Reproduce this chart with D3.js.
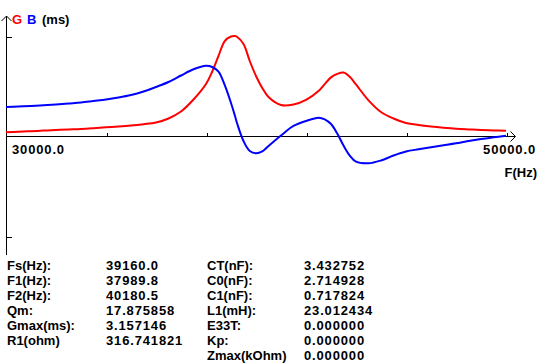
<!DOCTYPE html>
<html>
<head>
<meta charset="utf-8">
<script src="https://cdn.jsdelivr.net/npm/d3@7"></script>
<style>
html,body{margin:0;padding:0;background:#fff;}
svg{display:block;}
text{font-family:"Liberation Sans",Arial,sans-serif;font-weight:bold;font-size:13px;}
text.num{letter-spacing:0.85px;}
</style>
</head>
<body>
<svg id="chart" width="540" height="364"></svg>
<script>
// Frequencies (Hz)
const freq = [30000,30500,31000,31500,32000,32500,33000,33500,34000,34500,35000,35500,36000,36500,37000,37500,38000,38250,38500,38750,39000,39160,39250,39500,39750,40000,40250,40500,41000,41500,42000,42500,42750,43000,43250,43500,43750,44000,44500,45000,45500,46000,46500,47000,47500,48000,48500,49000,49500,50000];
// Conductance G (ms)
const gValues = [0.117,0.133,0.152,0.170,0.189,0.205,0.221,0.246,0.275,0.300,0.331,0.373,0.426,0.553,0.773,1.152,1.642,2.036,2.526,2.999,3.141,3.157,3.126,2.905,2.368,1.894,1.515,1.231,0.979,0.994,1.140,1.420,1.640,1.850,1.960,2.005,1.870,1.626,1.127,0.758,0.552,0.410,0.347,0.300,0.262,0.230,0.208,0.189,0.177,0.167];
// Susceptance B (ms)
const bValues = [0.916,0.931,0.947,0.969,0.994,1.026,1.058,1.105,1.152,1.215,1.294,1.405,1.547,1.705,1.910,2.106,2.219,2.178,2.036,1.604,1.042,0.631,0.385,-0.158,-0.474,-0.546,-0.489,-0.316,0.016,0.316,0.474,0.578,0.527,0.379,0.079,-0.300,-0.616,-0.811,-0.862,-0.773,-0.616,-0.489,-0.420,-0.357,-0.294,-0.230,-0.158,-0.095,-0.041,0.009];

const xDomain = [30000, 50000];
const xTicks = [34000, 38000, 42000, 46000, 50000];
const yMax = 3.157146;
const yTicks = [-yMax, yMax];
const xStartLabel = "30000.0";
const xEndLabel = "50000.0";
const xTitle = "F(Hz)";

const paramLabels1 = ["Fs(Hz):","F1(Hz):","F2(Hz):","Qm:","Gmax(ms):","R1(ohm)"];
const paramValues1 = ["39160.0","37989.8","40180.5","17.875858","3.157146","316.741821"];
const paramLabels2 = ["CT(nF):","C0(nF):","C1(nF):","L1(mH):","E33T:","Kp:","Zmax(kOhm)"];
const paramValues2 = ["3.432752","2.714928","0.717824","23.012434","0.000000","0.000000","0.000000"];

const svg = d3.select("#chart");
const x = d3.scaleLinear().domain(xDomain).range([6, 506]);
const y = d3.scaleLinear().domain([-yMax, yMax]).range([236, 36]);
const y0 = y(0);

// axes
const axG = svg.append("g");
axG.append("line").attr("x1",6.5).attr("x2",6.5).attr("y1",16).attr("y2",255)
  .attr("stroke","#000").attr("stroke-width",1);
axG.append("path").attr("d","M1.5,21 L6.5,16 L11.5,21").attr("fill","none").attr("stroke","#000").attr("stroke-width",1);
const yAxis = d3.axisRight(y).tickValues(yTicks).tickSize(5).tickFormat("");
const ya = svg.append("g").attr("transform","translate(6.5,0.5)").call(yAxis);
ya.select(".domain").remove();
ya.selectAll("line").attr("stroke","#000").attr("shape-rendering","crispEdges");

axG.append("line").attr("x1",6).attr("x2",515).attr("y1",y0+0.5).attr("y2",y0+0.5)
  .attr("stroke","#000").attr("stroke-width",1);
axG.append("path").attr("d",`M510.5,${y0-4.5} L515.5,${y0+0.5} L510.5,${y0+5.5}`).attr("fill","none").attr("stroke","#000").attr("stroke-width",1);
const xAxis = d3.axisTop(x).tickValues(xTicks).tickSize(4).tickFormat("");
const xa = svg.append("g").attr("transform",`translate(0.5,${y0+0.5})`).call(xAxis);
xa.select(".domain").remove();
xa.selectAll("line").attr("stroke","#000").attr("shape-rendering","crispEdges");

// curves
const lineG = d3.line().x((d,i)=>x(freq[i])).y(d=>y(d)).curve(d3.curveCatmullRom.alpha(0.5));
svg.append("path").datum(gValues).attr("d",lineG).attr("fill","none").attr("stroke","#ff0000").attr("stroke-width",2);
svg.append("path").datum(bValues).attr("d",lineG).attr("fill","none").attr("stroke","#0000ff").attr("stroke-width",2);

// header
const hdr = svg.append("text").attr("x",12).attr("y",24);
hdr.append("tspan").attr("fill","#ff0000").text("G");
hdr.append("tspan").attr("fill","#0000ff").attr("x",27).text("B");
hdr.append("tspan").attr("fill","#000").attr("x",42).text("(ms)");

// axis labels
svg.append("text").attr("class","num").attr("x",12).attr("y",154).text(xStartLabel);
svg.append("text").attr("class","num").attr("x",536).attr("y",154).attr("text-anchor","end").text(xEndLabel);
svg.append("text").attr("x",537).attr("y",177).attr("text-anchor","end").text(xTitle);

// parameter table
const rowY = i => 270 + i*15;
svg.append("g").selectAll("text").data(paramLabels1).join("text").attr("x",7).attr("y",(d,i)=>rowY(i)).text(d=>d);
svg.append("g").selectAll("text").data(paramValues1).join("text").attr("class","num").attr("x",106).attr("y",(d,i)=>rowY(i)).text(d=>d);
svg.append("g").selectAll("text").data(paramLabels2).join("text").attr("x",207).attr("y",(d,i)=>rowY(i)).text(d=>d);
svg.append("g").selectAll("text").data(paramValues2).join("text").attr("class","num").attr("x",304).attr("y",(d,i)=>rowY(i)).text(d=>d);
</script>
</body>
</html>
